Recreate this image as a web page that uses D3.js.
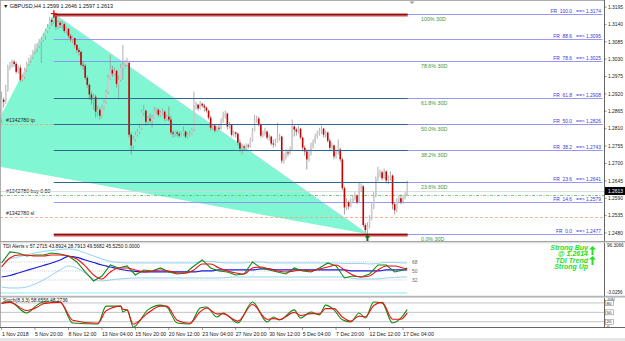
<!DOCTYPE html>
<html><head><meta charset="utf-8">
<script src="https://cdn.jsdelivr.net/npm/d3@7"></script>
<style>
html,body{margin:0;padding:0;background:#fff;overflow:hidden;}
svg{display:block;font-family:"Liberation Sans",Arial,sans-serif;}
</style></head><body>
<svg id="c" width="625" height="341"></svg>
<script>
// ---------- DATA ----------
const symbolTitle = "\u25BC GBPUSD,H4  1.2599 1.2646 1.2597 1.2613";
const firstOpen = 1.2839;
const closes = [
1.2902,1.2895,1.2933,1.3003,1.3009,1.3022,1.3015,1.2990,1.3003,1.2965,
1.2974,1.2996,1.3015,1.3025,1.3037,1.3053,1.3063,1.3072,1.3085,1.3091,
1.3104,1.3119,1.3132,1.3154,1.3148,1.3167,1.3132,1.3145,1.3138,1.3141,
1.3119,1.3126,1.3104,1.3094,1.3097,1.3075,1.3059,1.3053,1.3012,1.3009,
1.2971,1.2949,1.2918,1.2902,1.2911,1.2864,1.2870,1.2851,1.2877,1.2895,
1.2927,1.2971,1.2996,1.2984,1.2993,1.2952,1.2965,1.3003,1.3012,1.3015,
1.3018,1.2791,1.2757,1.2776,1.2791,1.2801,1.2813,1.2861,1.2867,1.2832,
1.2842,1.2835,1.2845,1.2867,1.2870,1.2854,1.2861,1.2864,1.2842,1.2848,
1.2839,1.2798,1.2794,1.2798,1.2794,1.2788,1.2794,1.2801,1.2785,1.2791,
1.2794,1.2807,1.2883,1.2886,1.2874,1.2889,1.2883,1.2877,1.2867,1.2845,
1.2813,1.2820,1.2804,1.2813,1.2810,1.2835,1.2851,1.2858,1.2817,1.2823,
1.2791,1.2798,1.2794,1.2766,1.2747,1.2754,1.2750,1.2757,1.2754,1.2776,
1.2804,1.2835,1.2842,1.2823,1.2788,1.2794,1.2801,1.2782,1.2785,1.2763,
1.2760,1.2769,1.2782,1.2785,1.2709,1.2719,1.2735,1.2732,1.2744,1.2817,
1.2807,1.2801,1.2810,1.2782,1.2750,1.2738,1.2713,1.2732,1.2754,1.2766,
1.2785,1.2794,1.2801,1.2810,1.2791,1.2798,1.2772,1.2750,1.2757,1.2722,
1.2735,1.2744,1.2713,1.2622,1.2561,1.2577,1.2564,1.2580,1.2590,1.2599,
1.2577,1.2618,1.2628,1.2505,1.2489,1.2501,1.2526,1.2561,1.2599,1.2650,
1.2668,1.2672,1.2653,1.2675,1.2646,1.2653,1.2662,1.2571,1.2552,1.2583,
1.2590,1.2577,1.2590,1.2599,1.2613];
const highs = [
1.2927,1.2908,1.2949,1.3012,1.3022,1.3028,1.3028,1.3022,1.3009,1.3012,
1.2981,1.3003,1.3022,1.3034,1.3044,1.3059,1.3078,1.3081,1.3094,1.3101,
1.3113,1.3126,1.3141,1.3164,1.3161,1.3174,1.3167,1.3154,1.3151,1.3151,
1.3145,1.3132,1.3129,1.3110,1.3104,1.3097,1.3078,1.3066,1.3056,1.3022,
1.3015,1.2978,1.2952,1.2927,1.2921,1.2918,1.2883,1.2877,1.2886,1.2902,
1.2933,1.2981,1.3044,1.3009,1.3003,1.2996,1.2978,1.3015,1.3075,1.3028,
1.3034,1.3022,1.2798,1.2788,1.2801,1.2810,1.2823,1.2870,1.2886,1.2870,
1.2851,1.2858,1.2854,1.2880,1.2877,1.2874,1.2867,1.2874,1.2867,1.2854,
1.2880,1.2851,1.2804,1.2804,1.2804,1.2801,1.2801,1.2817,1.2804,1.2798,
1.2804,1.2813,1.2927,1.2895,1.2889,1.2898,1.2892,1.2889,1.2880,1.2870,
1.2851,1.2826,1.2823,1.2820,1.2823,1.2842,1.2864,1.2867,1.2861,1.2832,
1.2826,1.2804,1.2801,1.2798,1.2776,1.2763,1.2760,1.2763,1.2763,1.2782,
1.2813,1.2854,1.2851,1.2848,1.2826,1.2804,1.2813,1.2804,1.2794,1.2788,
1.2776,1.2779,1.2829,1.2794,1.2788,1.2732,1.2744,1.2744,1.2754,1.2839,
1.2820,1.2813,1.2820,1.2813,1.2785,1.2757,1.2744,1.2744,1.2766,1.2776,
1.2794,1.2804,1.2813,1.2820,1.2813,1.2804,1.2801,1.2779,1.2766,1.2760,
1.2744,1.2776,1.2750,1.2719,1.2628,1.2590,1.2583,1.2590,1.2599,1.2609,
1.2602,1.2640,1.2637,1.2631,1.2511,1.2514,1.2536,1.2574,1.2609,1.2659,
1.2690,1.2681,1.2678,1.2684,1.2678,1.2662,1.2675,1.2665,1.2577,1.2590,
1.2599,1.2602,1.2599,1.2609,1.2646];
const lows = [
1.2829,1.2877,1.2889,1.2927,1.2996,1.3003,1.3006,1.2984,1.2984,1.2959,
1.2959,1.2968,1.2990,1.3009,1.3018,1.3031,1.3047,1.3053,1.3066,1.3018,
1.3085,1.3091,1.3113,1.3126,1.3135,1.3141,1.3123,1.3126,1.3129,1.3126,
1.3113,1.3110,1.3097,1.3085,1.3081,1.3066,1.3050,1.3041,1.3006,1.2996,
1.2965,1.2940,1.2902,1.2886,1.2870,1.2845,1.2851,1.2839,1.2845,1.2870,
1.2889,1.2921,1.2965,1.2974,1.2978,1.2940,1.2902,1.2959,1.2965,1.3006,
1.3006,1.2782,1.2728,1.2744,1.2769,1.2785,1.2794,1.2807,1.2851,1.2820,
1.2826,1.2829,1.2813,1.2842,1.2858,1.2848,1.2848,1.2854,1.2835,1.2835,
1.2832,1.2791,1.2782,1.2785,1.2785,1.2782,1.2785,1.2788,1.2779,1.2779,
1.2785,1.2791,1.2801,1.2870,1.2867,1.2870,1.2877,1.2864,1.2861,1.2839,
1.2804,1.2807,1.2798,1.2801,1.2804,1.2807,1.2829,1.2842,1.2807,1.2810,
1.2785,1.2785,1.2782,1.2757,1.2738,1.2728,1.2741,1.2744,1.2747,1.2750,
1.2769,1.2801,1.2829,1.2817,1.2782,1.2782,1.2788,1.2776,1.2772,1.2757,
1.2750,1.2754,1.2766,1.2772,1.2700,1.2700,1.2713,1.2722,1.2728,1.2741,
1.2785,1.2788,1.2794,1.2776,1.2738,1.2725,1.2681,1.2706,1.2725,1.2747,
1.2763,1.2779,1.2788,1.2794,1.2782,1.2782,1.2766,1.2741,1.2744,1.2713,
1.2716,1.2728,1.2706,1.2615,1.2539,1.2552,1.2555,1.2561,1.2574,1.2583,
1.2571,1.2574,1.2609,1.2498,1.2482,1.2477,1.2495,1.2520,1.2555,1.2593,
1.2643,1.2656,1.2646,1.2650,1.2637,1.2634,1.2646,1.2555,1.2539,1.2545,
1.2574,1.2571,1.2571,1.2586,1.2597];

const dateLabels = ["1 Nov 2018","5 Nov 20:00","8 Nov 12:00","13 Nov 04:00","15 Nov 20:00","20 Nov 12:00","23 Nov 04:00","27 Nov 20:00","30 Nov 12:00","5 Dec 04:00","7 Dec 20:00","12 Dec 12:00","17 Dec 04:00"];
const dateLabelBars = [0,16,32,48,64,80,96,112,128,144,160,176,192];
const priceTicks = [1.3195,1.3140,1.3085,1.3030,1.2975,1.2920,1.2865,1.2810,1.2755,1.2700,1.2645,1.2590,1.2535,1.2480];

const fibLevels = [100,88.6,78.6,61.8,50,38.2,23.6,14.6,0];
const fibPrices = [1.3174,1.3095,1.3025,1.2908,1.2826,1.2743,1.2641,1.2579,1.2477];
const fibKind   = ["red","light","light","dark","dark","dark","dark","light","red"];
const fibTags   = ["100% 30D","","78.6% 30D","61.8% 30D","50.0% 30D","38.2% 30D","23.6% 30D","","0.0% 30D"];
const fibStartBar = 25, fibEndBar = 194;

// triangle (bar index, price)
const triangleBars = [-12, 25, 175];
const trianglePrices = [1.2703, 1.3174, 1.2477];

// trade lines
const tradeNames = ["#1342780 tp","#1342780 buy 0.50","#1342780 sl"];
const tradePrices = [1.2826, 1.2599, 1.2530];
const bidPrice = 1.2613;

// TDI indicator
const tdiTitle = "TDI Alerts v 57.2715 43.8924 28.7913 49.5682 45.5250 0.0000";
const tdiBars = [0,4,8,12,16,20,24,28,32,36,40,44,48,52,56,60,64,68,72,76,80,84,88,92,96,100,104,108,112,116,120,124,128,132,136,140,144,148,152,156,160,164,168,172,176,180,184,188,192,194];
const tdiRsi = [66,88,86,80,82,82,86,84,80,68,48,30,40,62,56,60,42,52,50,56,48,44,46,60,72,56,50,48,42,44,68,56,52,48,44,56,50,48,56,66,60,36,40,38,44,62,62,48,52,56];
const tdiSignal = [58,76,82,82,80,80,82,82,80,74,60,42,34,48,56,56,52,48,50,52,50,46,46,52,64,64,56,50,46,44,56,58,54,50,48,50,52,50,54,58,62,52,42,38,40,52,60,60,56,54];
const tdiBase = [38,41,46,51,56,61,66,72,79,77,72,67,62,58,54,51,49,48,48,48,48,48,48,48,50,50,52,52,52,52,52,54,54,52,52,52,52,52,52,52,52,52,50,50,50,50,52,52,52,52];
const tdiUpper = [68,74,78,82,86,89,91,93,94,92,86,80,74,69,67,66,66,66,66,66,66,66,66,66,69,69,67,66,66,66,68,68,66,66,66,66,66,66,66,66,66,65,65,65,64,65,67,67,66,66];
const tdiLower = [18,16,16,18,24,32,42,52,60,56,46,34,30,32,34,35,36,36,36,36,36,36,36,36,36,36,36,37,38,38,38,38,38,38,38,38,38,38,38,38,38,38,35,34,34,34,36,37,38,38];
const tdiLevels = [68,50,32];
const tdiCyanLevel = 6;
const tdiAxis = ["96.3066","-3.0256"];
const alertLines = ["Strong Buy","@ 1.2614","TDI Trend","Strong Up"];

// Stochastic
const stochTitle = "Stoch(8,3,3) 58.6556 48.2736";
const stochBars = [0,4,12,17,20,28,34,46,50,57,58,60,63,70,76,79,84,90,95,98,103,106,113,120,127,130,133,140,143,148,152,155,159,163,167,171,174,178,182,187,191,194];
const stochMain = [80,83,48,73,83,83,16,13,70,70,51,58,3,58,73,67,16,13,64,67,35,48,16,83,19,35,26,58,32,51,42,73,58,26,19,48,32,83,80,16,32,58.66];
const stochSignal = [78,82,56,66,78,82,25,15,55,70,60,58,12,48,70,70,25,15,52,64,45,45,22,75,28,30,27,50,40,46,45,62,62,35,22,38,36,72,82,28,28,48.27];
const stochLevels = [80,50,20];

// ---------- DRAW ----------
const svg = d3.select("#c");
const AX = 604.5;
const x = d3.scaleLinear().domain([0,192]).range([1.56,403]);
const y = d3.scaleLinear().domain([1.2480,1.3195]).range([233,7]);
const yT = d3.scaleLinear().domain([-3.0256,96.3066]).range([297.5,247.8]);
const yS = d3.scaleLinear().domain([0,100]).range([328,296.7]);

const defs = svg.append("defs");
defs.append("clipPath").attr("id","cm").append("rect").attr("x",0).attr("y",1).attr("width",AX).attr("height",240);
defs.append("clipPath").attr("id","ct").append("rect").attr("x",0).attr("y",243).attr("width",AX).attr("height",53);
defs.append("clipPath").attr("id","cs").append("rect").attr("x",0).attr("y",297.5).attr("width",AX).attr("height",30);

svg.append("rect").attr("width",625).attr("height",341).attr("fill","#fff");

// main panel
const gm = svg.append("g").attr("clip-path","url(#cm)");
const tri = triangleBars.map((b,i)=>[x(b), y(trianglePrices[i])]);
gm.append("path").attr("d","M"+tri.map(p=>p.join(",")).join("L")+"Z").attr("fill","#80f7d2");
gm.append("line").attr("x1",tri[1][0]).attr("y1",tri[1][1]).attr("x2",tri[2][0]).attr("y2",tri[2][1])
  .attr("stroke","#a6d8f2").attr("stroke-width",0.8);

// trade lines (behind)
const tradeColors = ["#f4a070","#5cb85c","#f4a070"];
const tradeDash = ["3,2","3,1.5,1,1.5","3,2"];
tradePrices.forEach((p,i)=>{
  gm.append("line").attr("x1",0).attr("x2",AX).attr("y1",Math.round(y(p))+0.5).attr("y2",Math.round(y(p))+0.5)
    .attr("stroke",tradeColors[i]).attr("stroke-width",0.8).attr("stroke-dasharray",tradeDash[i]);
  gm.append("text").attr("x",6).attr("y",Math.round(y(p))-2).attr("font-size",5.2).attr("fill","#222").text(tradeNames[i]);
});
gm.append("line").attr("x1",0).attr("x2",AX).attr("y1",Math.round(y(bidPrice))+0.5).attr("y2",Math.round(y(bidPrice))+0.5)
  .attr("stroke","#d4d4d4").attr("stroke-width",0.8);

// fib extension light lines
const xs = x(fibStartBar), xe = x(fibEndBar)+0.5;
fibPrices.forEach((p,i)=>{
  const yy = Math.round(y(p))+0.5;
  gm.append("line").attr("x1",xs).attr("x2",AX-2).attr("y1",yy).attr("y2",yy).attr("stroke","#8c8cf6").attr("stroke-width",0.9);
});

// candles
const bars = closes.map((c,i)=>({i, o: i ? closes[i-1] : firstOpen, h: highs[i], l: lows[i], c}));
gm.selectAll("line.w").data(bars).join("line").attr("class","w")
  .attr("x1",d=>x(d.i)).attr("x2",d=>x(d.i)).attr("y1",d=>y(d.h)).attr("y2",d=>y(d.l))
  .attr("stroke",d=>d.c>=d.o?"#9a9a9a":"#8a8a8a").attr("stroke-width",0.8);
gm.selectAll("rect.b").data(bars).join("rect").attr("class","b")
  .attr("x",d=>x(d.i)-0.8).attr("width",1.6)
  .attr("y",d=>y(Math.max(d.o,d.c))).attr("height",d=>Math.max(0.7,Math.abs(y(d.o)-y(d.c))))
  .attr("fill",d=>d.c>=d.o?"#cdcdcd":"#c80000");

// fib object lines
fibPrices.forEach((p,i)=>{
  const yy = Math.round(y(p))+0.5;
  if (fibKind[i]==="dark") {
    gm.append("line").attr("x1",xs).attr("x2",xe).attr("y1",yy).attr("y2",yy).attr("stroke","#33658f").attr("stroke-width",1);
  } else if (fibKind[i]==="red") {
    gm.append("line").attr("x1",xs).attr("x2",xe).attr("y1",yy+0.6).attr("y2",yy+0.6).attr("stroke","#d24848").attr("stroke-width",2.6);
    gm.append("line").attr("x1",xs).attr("x2",xe).attr("y1",yy-0.2).attr("y2",yy-0.2).attr("stroke","#6a0000").attr("stroke-width",1.1);
  }
  if (fibTags[i]) {
    gm.append("text").attr("x",421).attr("y",yy+6).attr("font-size",5.3).attr("fill","#3a9a3a").text(fibTags[i]);
  }
  const lvl = fibLevels[i].toFixed(1);
  gm.append("text").attr("x",601).attr("y",yy-1.5).attr("font-size",4.9).attr("fill","#3838d0")
    .attr("text-anchor","end").attr("xml:space","preserve").text("FR  "+lvl+"   ==> "+p.toFixed(4));
});

// markers
const px = x(fibStartBar), py = y(highs[fibStartBar]);
gm.append("path").attr("d",`M${px-3},${py}H${px+3}M${px},${py-3.5}V${py+4}`).attr("stroke","#e81010").attr("stroke-width",1.4);
const lx = x(175), ly = y(lows[175]);
gm.append("path").attr("d",`M${lx},${ly+0.5}L${lx+2.8},${ly+3.5}H${lx+1}V${ly+7}H${lx-1}V${ly+3.5}H${lx-2.8}Z`).attr("fill","#0c6e14");

// title
svg.append("text").attr("x",3).attr("y",8).attr("font-size",5.4).attr("fill","#111").text(symbolTitle);
// chart shift marker
svg.append("path").attr("d","M409.5,1.5H414.5L412,4Z").attr("fill","#999");

// price axis
priceTicks.forEach(t=>{
  const yy = y(t);
  svg.append("line").attr("x1",AX).attr("x2",AX+2).attr("y1",yy).attr("y2",yy).attr("stroke","#444").attr("stroke-width",0.6);
  svg.append("text").attr("x",608).attr("y",yy+1.8).attr("font-size",4.9).attr("fill","#222").text(t.toFixed(4));
});
const by = y(bidPrice);
svg.append("rect").attr("x",605).attr("y",by-4).attr("width",20).attr("height",8).attr("fill","#000");
svg.append("text").attr("x",608).attr("y",by+1.8).attr("font-size",4.9).attr("fill","#fff").text(bidPrice.toFixed(4));

// TDI panel
const gt = svg.append("g").attr("clip-path","url(#ct)");
tdiLevels.forEach(l=>{
  gt.append("line").attr("x1",0).attr("x2",x(194)).attr("y1",yT(l)).attr("y2",yT(l)).attr("stroke","#b4b4b4").attr("stroke-width",0.7).attr("stroke-dasharray","1,1.2");
  svg.append("text").attr("x",412).attr("y",yT(l)+1.8).attr("font-size",4.9).attr("fill","#666").text(l);
});
gt.append("line").attr("x1",0).attr("x2",x(194)).attr("y1",yT(tdiCyanLevel)).attr("y2",yT(tdiCyanLevel)).attr("stroke","#8fe6f6").attr("stroke-width",1);
const lineT = (arr)=>d3.line().x((d,i)=>x(tdiBars[i])).y(d=>yT(d)).curve(d3.curveMonotoneX)(arr);
gt.append("path").attr("d",lineT(tdiUpper)).attr("fill","none").attr("stroke","#87cdf0").attr("stroke-width",0.9);
gt.append("path").attr("d",lineT(tdiLower)).attr("fill","none").attr("stroke","#87cdf0").attr("stroke-width",0.9);
gt.append("path").attr("d",lineT(tdiBase)).attr("fill","none").attr("stroke","#1a1ae0").attr("stroke-width",1.2);
gt.append("path").attr("d",d3.line().x((d,i)=>x(tdiBars[i])).y(d=>yT(d))(tdiRsi)).attr("fill","none").attr("stroke","#138a13").attr("stroke-width",1.1);
gt.append("path").attr("d",lineT(tdiSignal)).attr("fill","none").attr("stroke","#f01010").attr("stroke-width",1.1);
svg.append("text").attr("x",3).attr("y",248).attr("font-size",4.9).attr("fill","#111").text(tdiTitle);
svg.append("text").attr("x",607).attr("y",247).attr("font-size",4.6).attr("fill","#222").text(tdiAxis[0]);
svg.append("text").attr("x",607).attr("y",294).attr("font-size",4.6).attr("fill","#222").text(tdiAxis[1]);
// alert text
const alertY = [250,256,262.5,268.5];
alertLines.forEach((t,i)=>{
  svg.append("text").attr("x",588).attr("y",alertY[i]).attr("text-anchor","end").attr("font-size",7).attr("font-weight","bold")
    .attr("font-style","italic").attr("fill","#22e022").text(t);
});
[246,256].forEach(a=>{
  svg.append("path").attr("d",`M592.5,${a}L596,${a+3.5}H593.5V${a+9}H591.5V${a+3.5}H589Z`).attr("fill","#22e022");
});

// Stoch panel
const gs = svg.append("g").attr("clip-path","url(#cs)");
stochLevels.forEach(l=>{
  gs.append("line").attr("x1",0).attr("x2",AX).attr("y1",yS(l)).attr("y2",yS(l)).attr("stroke","#b4b4b4").attr("stroke-width",0.8);
});
const lineS = d3.line().x((d,i)=>x(stochBars[i])).y(d=>yS(d)).curve(d3.curveMonotoneX);
gs.append("path").attr("d",lineS(stochMain)).attr("fill","none").attr("stroke","#138a13").attr("stroke-width",1.1);
gs.append("path").attr("d",lineS(stochSignal)).attr("fill","none").attr("stroke","#f01010").attr("stroke-width",1.1);
svg.append("text").attr("x",3).attr("y",302).attr("font-size",4.9).attr("fill","#111").text(stochTitle);
svg.append("text").attr("x",607).attr("y",300.5).attr("font-size",4.6).attr("fill","#222").text("100");
stochLevels.forEach(l=>{
  svg.append("rect").attr("x",605.5).attr("y",yS(l)-2.5).attr("width",8).attr("height",5).attr("fill","#fff").attr("stroke","#777").attr("stroke-width",0.5);
  svg.append("text").attr("x",606.5).attr("y",yS(l)+1.6).attr("font-size",4.4).attr("fill","#222").text(l);
});
svg.append("text").attr("x",607).attr("y",328).attr("font-size",4.4).attr("fill","#222").text("0");

// frames & separators
const fr = svg.append("g").attr("fill","none");
fr.append("line").attr("x1",0.5).attr("x2",0.5).attr("y1",0).attr("y2",328).attr("stroke","#999").attr("stroke-width",0.8);
fr.append("line").attr("x1",0).attr("x2",AX).attr("y1",0.5).attr("y2",0.5).attr("stroke","#999").attr("stroke-width",0.8);
fr.append("line").attr("x1",AX).attr("x2",AX).attr("y1",0).attr("y2",328).attr("stroke","#555").attr("stroke-width",0.9);
[[241.5,"#9a9a9a"],[242.8,"#cfcfcf"],[296.3,"#9a9a9a"],[297.5,"#cfcfcf"],[327.5,"#555"]].forEach(([yy,c])=>{
  fr.append("line").attr("x1",0).attr("x2",625).attr("y1",yy).attr("y2",yy).attr("stroke",c).attr("stroke-width",0.9);
});

// date axis
dateLabelBars.forEach((b,i)=>{
  const xx = i===0 ? 2 : x(b);
  svg.append("line").attr("x1",x(b)).attr("x2",x(b)).attr("y1",327.5).attr("y2",330).attr("stroke","#555").attr("stroke-width",0.6);
  svg.append("text").attr("x",xx).attr("y",335.5).attr("font-size",5.2).attr("fill","#222").text(dateLabels[i]);
});
svg.append("rect").attr("x",0).attr("y",338).attr("width",625).attr("height",3).attr("fill","#e6e6e6");
</script>
</body></html>
